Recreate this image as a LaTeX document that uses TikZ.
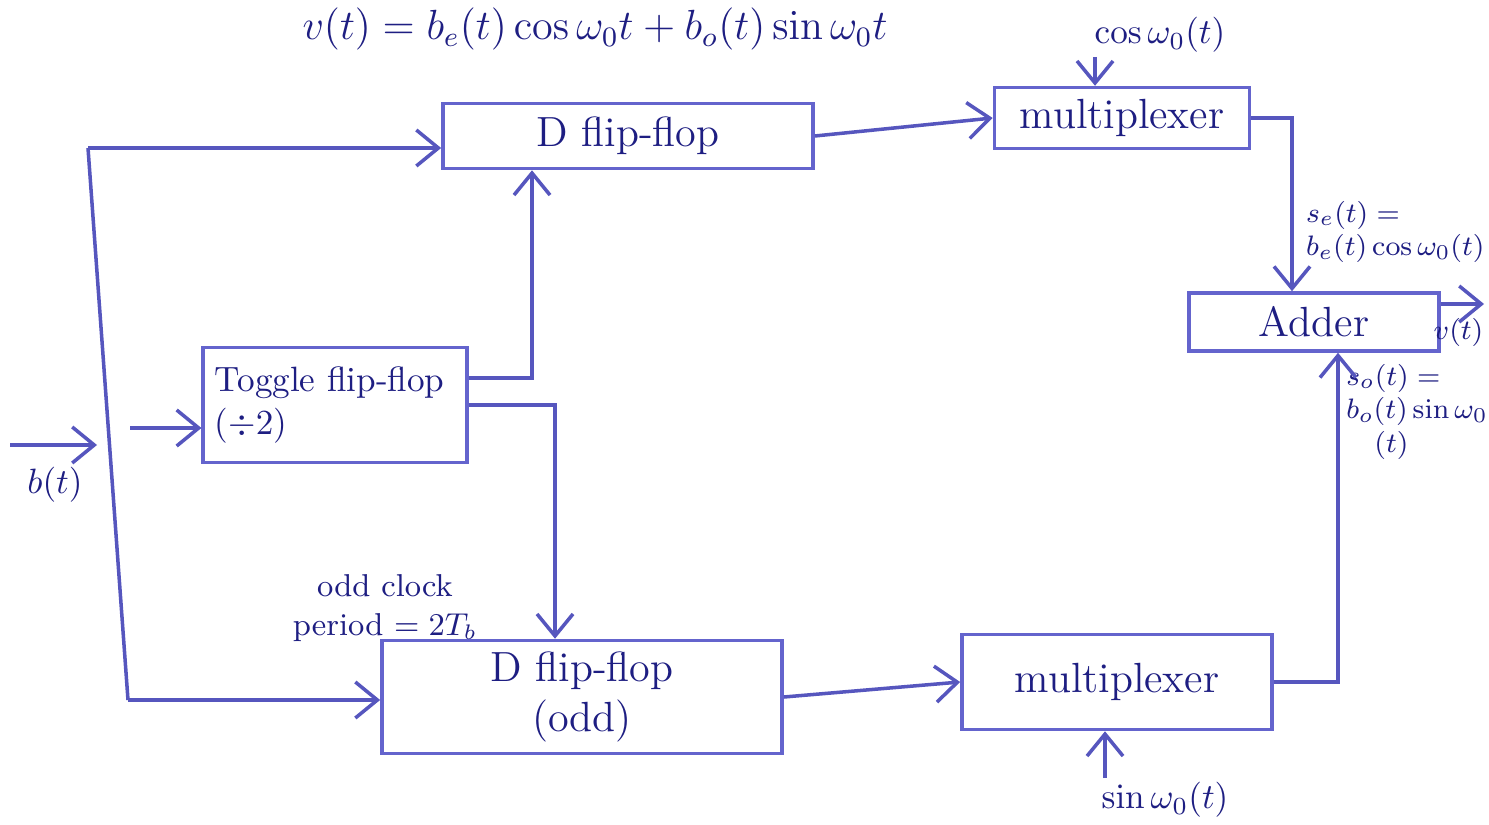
\documentclass[tikz,border=0pt]{standalone}
\usetikzlibrary{positioning,arrows.meta}
\definecolor{ink}{RGB}{30,30,130}
\definecolor{pen}{RGB}{100,100,205}
\begin{document}
\begin{tikzpicture}[x=0.01cm,y=-0.01cm,
  blkbox/.style={draw=pen,line width=1pt,text=ink,font=\large},
  wire/.style={draw=pen!80!ink,line width=1pt},
  arr/.style={wire,-{Straight Barb[length=2.2mm,width=3.6mm]}},
  lbl/.style={text=ink,align=left,inner sep=1pt}]
\useasboundingbox (0,0) rectangle (1489,825);
% blocks
\node[blkbox,minimum width=3.7cm,minimum height=0.65cm] (dff) at (628,136) {D flip-flop};
\node[blkbox,minimum width=2.55cm,minimum height=0.6cm] (muxa) at (1122,118) {multiplexer};
\node[blkbox,minimum width=2.6cm,minimum height=1.15cm,text width=2.4cm,align=left,font=\normalsize] (tff) at (335,405) {Toggle flip-flop\\(\(\div2\))};
\node[blkbox,minimum width=4cm,minimum height=0.9cm,align=center] (dffo) at (582,697) {D flip-flop\\(odd)};
\node[blkbox,minimum width=3.1cm,minimum height=0.95cm] (muxb) at (1117,682) {multiplexer};
\node[blkbox,minimum width=2.5cm,minimum height=0.58cm] (add) at (1314,322) {Adder};
% labels
\node[lbl,font=\large,anchor=north] (eqn) at (595,4) {\(v(t)=b_e(t)\cos\omega_0 t+b_o(t)\sin\omega_0 t\)};
\node[lbl] (coslbl) at (1160,35) {\(\cos\omega_0(t)\)};
\node[lbl] (sinlbl) at (1165,800) {\(\sin\omega_0(t)\)};
\node[lbl,font=\footnotesize,anchor=west] (selbl) at (1302,232) {\(s_e(t)=\)\\\(b_e(t)\cos\omega_0(t)\)};
\node[lbl,font=\footnotesize,anchor=north west] (solbl) at (1342,360) {\(s_o(t)=\)\\\(b_o(t)\sin\omega_0\)\\\quad\((t)\)};
\node[lbl,align=center,font=\small] (clklbl) at (385,608) {odd clock\\period \(=2T_b\)};
\node[lbl] (blbl) at (55,485) {\(b(t)\)};
% wires
\coordinate (rtop) at (88,148);
\coordinate (rbot) at (128,700);
\coordinate (tin) at (130,428);
\coordinate (bin) at (10,445);
\coordinate (bend) at (97,445);
\coordinate (ta) at (532,378);
\coordinate (tb) at (555,405);
\coordinate (sa) at (1292,118);
\coordinate (sb) at (1338,682);
\coordinate (ca) at (1095,0);
\coordinate (cb) at (1105,0);
\coordinate (vout) at (1484,304);
\draw[arr] (bin) -- (bend);
\draw[wire] (rtop) -- (rbot);
\draw[arr] (rtop) -- (rtop -| dff.west);
\draw[arr] (rbot) -- (rbot -| dffo.west);
\draw[arr] (tin) -- (tin -| tff.west);
\draw[arr] (tff.east |- ta) -- (ta) -- (ta |- dff.south);
\draw[arr] (tff.east |- tb) -- (tb) -- (tb |- dffo.north);
\draw[arr] (dff.east) -- (muxa.west);
\draw[arr] (dffo.east) -- (muxb.west);
\draw[arr] (muxa.east) -- (sa) -- (sa |- add.north);
\draw[arr] (muxb.east) -- (sb) -- (sb |- add.south);
\draw[arr] (coslbl.south -| ca) -- (muxa.north -| ca);
\draw[arr] (sinlbl.north -| cb) -- (muxb.south -| cb);
\draw[arr] (add.east |- vout) -- (vout);
\node[lbl,anchor=north east,font=\footnotesize] (vlbl) at ([xshift=1pt,yshift=-3pt]vout) {\(v(t)\)};
\end{tikzpicture}
\end{document}
